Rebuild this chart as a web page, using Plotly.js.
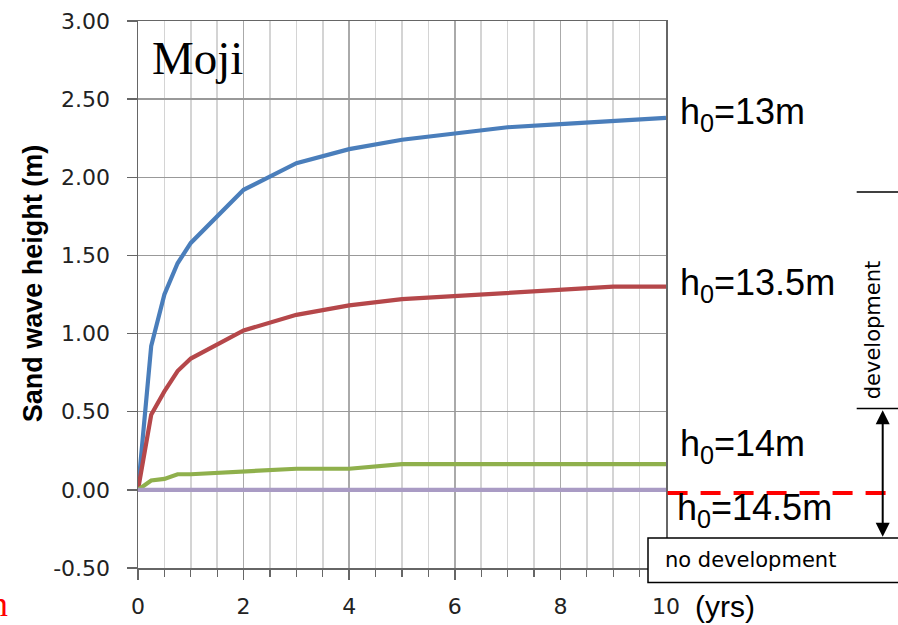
<!DOCTYPE html>
<html>
<head>
<meta charset="utf-8">
<script src="https://cdn.plot.ly/plotly-3.0.1.min.js"></script>
<style>html,body{margin:0;padding:0;background:#fff;}#chart{width:898px;height:625px;}</style>
</head>
<body>
<div id="chart"></div>
<script>
// ---- data ----
var years = [0, 0.25, 0.5, 0.75, 1, 2, 3, 4, 5, 6, 7, 8, 9, 10];
var h13   = [0, 0.92, 1.25, 1.45, 1.58, 1.92, 2.09, 2.18, 2.24, 2.28, 2.32, 2.34, 2.36, 2.38];
var h135  = [0, 0.48, 0.63, 0.76, 0.84, 1.02, 1.12, 1.18, 1.22, 1.24, 1.26, 1.28, 1.30, 1.30];
var h14   = [0, 0.06, 0.07, 0.10, 0.10, 0.12, 0.135, 0.135, 0.165, 0.165, 0.165, 0.165, 0.165, 0.165];
var h145  = [0, 0, 0, 0, 0, 0, 0, 0, 0, 0, 0, 0, 0, 0];
var seriesNames = ['h<sub>0</sub>=13m', 'h<sub>0</sub>=13.5m', 'h<sub>0</sub>=14m', 'h<sub>0</sub>=14.5m'];
var xTickVals = [0, 2, 4, 6, 8, 10];
var yTickVals = [-0.5, 0, 0.5, 1, 1.5, 2, 2.5, 3];
var yTickText = ['-0.50', '0.00', '0.50', '1.00', '1.50', '2.00', '2.50', '3.00'];

// ---- layout helpers (pixel -> paper) ----
var L = 138, R = 666, T = 20.7, B = 567.7;
function PX(x) { return (x - L) / (R - L); }
function PY(y) { return (B - y) / (B - T); }

var colors = ['#4a7ebb', '#b5474a', '#8fb04c', '#a99bc4'];
var allY = [h13, h135, h14, h145];
var traces = allY.map(function (ys, i) {
  return {x: years, y: ys, type: 'scatter', mode: 'lines', name: seriesNames[i],
          line: {color: colors[i], width: 4.2}, hoverinfo: 'skip'};
});

var lblFont = {family: 'Liberation Sans, Arial, sans-serif', size: 36, color: '#000'};
var lblY = [h13[h13.length - 1], h135[h135.length - 1], h14[h14.length - 1], h145[h145.length - 1]];
var lblShift = [4, 2, 18, -20];
var annotations = seriesNames.map(function (t, i) {
  return {text: t, xref: 'paper', yref: 'y', x: PX(i === 3 ? 675 : 678), y: lblY[i], yshift: lblShift[i],
          xanchor: 'left', yanchor: 'middle', showarrow: false, font: lblFont};
});
annotations.push(
  {text: 'Moji', xref: 'paper', yref: 'paper', x: PX(150), y: PY(58), xanchor: 'left', yanchor: 'middle',
   showarrow: false, font: {family: 'Liberation Serif, Times New Roman, serif', size: 47, color: '#000'}},
  {text: '<b>Sand wave height (m)</b>', xref: 'paper', yref: 'paper', x: PX(33), y: PY(283), textangle: -90,
   xanchor: 'center', yanchor: 'middle', showarrow: false,
   font: {family: 'Liberation Sans, Arial, sans-serif', size: 27, color: '#000'}},
  {text: '(yrs)', xref: 'paper', yref: 'paper', x: PX(693), y: PY(606), xanchor: 'left', yanchor: 'middle',
   showarrow: false, font: {family: 'Liberation Sans, Arial, sans-serif', size: 30, color: '#000'}},
  {text: 'development', xref: 'paper', yref: 'paper', x: PX(873), y: PY(330), textangle: -90,
   xanchor: 'center', yanchor: 'middle', showarrow: false,
   font: {family: 'DejaVu Sans, sans-serif', size: 21, color: '#000'}},
  {text: 'no development', xref: 'paper', yref: 'paper', x: PX(663), y: PY(560), xanchor: 'left', yanchor: 'middle',
   showarrow: false, font: {family: 'DejaVu Sans, sans-serif', size: 21, color: '#000'}},
  {text: '', xref: 'paper', yref: 'paper', x: PX(882.7), y: PY(410), ax: 0, ay: 128,
   showarrow: true, arrowside: 'end+start', arrowhead: 2, arrowsize: 1.4, arrowwidth: 2, arrowcolor: '#000',
   standoff: 0, startstandoff: 0},
  {text: 'n', xref: 'paper', yref: 'paper', x: PX(10), y: PY(604), xanchor: 'right', yanchor: 'middle',
   showarrow: false, font: {family: 'Liberation Serif, Times New Roman, serif', size: 36, color: '#ff0000'}}
);

var shapes = [
  {type: 'line', xref: 'paper', yref: 'paper', x0: 1.003, x1: 1.5, y0: PY(492.7), y1: PY(492.7),
   line: {color: '#ff0000', width: 4, dash: '20px,13px'}},
  {type: 'line', xref: 'paper', yref: 'paper', x0: PX(856.7), x1: 1.5, y0: PY(191.7), y1: PY(191.7),
   line: {color: '#000', width: 1.5}},
  {type: 'line', xref: 'paper', yref: 'paper', x0: PX(856.7), x1: 1.5, y0: PY(408.3), y1: PY(408.3),
   line: {color: '#000', width: 1.5}},
  {type: 'rect', xref: 'paper', yref: 'paper', x0: PX(648), x1: 1.5, y0: PY(582.3), y1: PY(537.7),
   fillcolor: '#fff', line: {color: '#000', width: 1.5}}
];

var tickFont = {family: 'DejaVu Sans, sans-serif', size: 22, color: '#222'};
var layout = {
  width: 898, height: 625,
  margin: {l: L, r: 898 - R, t: T, b: 625 - B, pad: 0},
  paper_bgcolor: '#fff', plot_bgcolor: '#fff',
  showlegend: false,
  xaxis: {range: [0, 10], tickvals: xTickVals, ticktext: xTickVals.map(String),
          showgrid: true, gridcolor: '#aaaaaa', gridwidth: 1.5, zeroline: false,
          showline: true, linecolor: '#666', linewidth: 1.5, mirror: true,
          ticks: 'outside', ticklen: 10, tickcolor: '#666', tickwidth: 1.5,
          ticklabelstandoff: 8, tickfont: tickFont,
          minor: {dtick: 0.5, tick0: 0, ticks: 'outside', ticklen: 7, tickcolor: '#666', tickwidth: 1.2,
                  showgrid: true, gridcolor: '#d4d4d4', gridwidth: 1.5}},
  yaxis: {range: [-0.5, 3], tickvals: yTickVals, ticktext: yTickText,
          showgrid: true, gridcolor: '#999999', gridwidth: 1.5, zeroline: false,
          showline: true, linecolor: '#666', linewidth: 1.5, mirror: true,
          ticks: 'outside', ticklen: 10, tickcolor: '#666', tickwidth: 1.5,
          ticklabelstandoff: 12, tickfont: tickFont},
  annotations: annotations,
  shapes: shapes
};

Plotly.newPlot('chart', traces, layout, {staticPlot: true, displayModeBar: false});
</script>
</body>
</html>
